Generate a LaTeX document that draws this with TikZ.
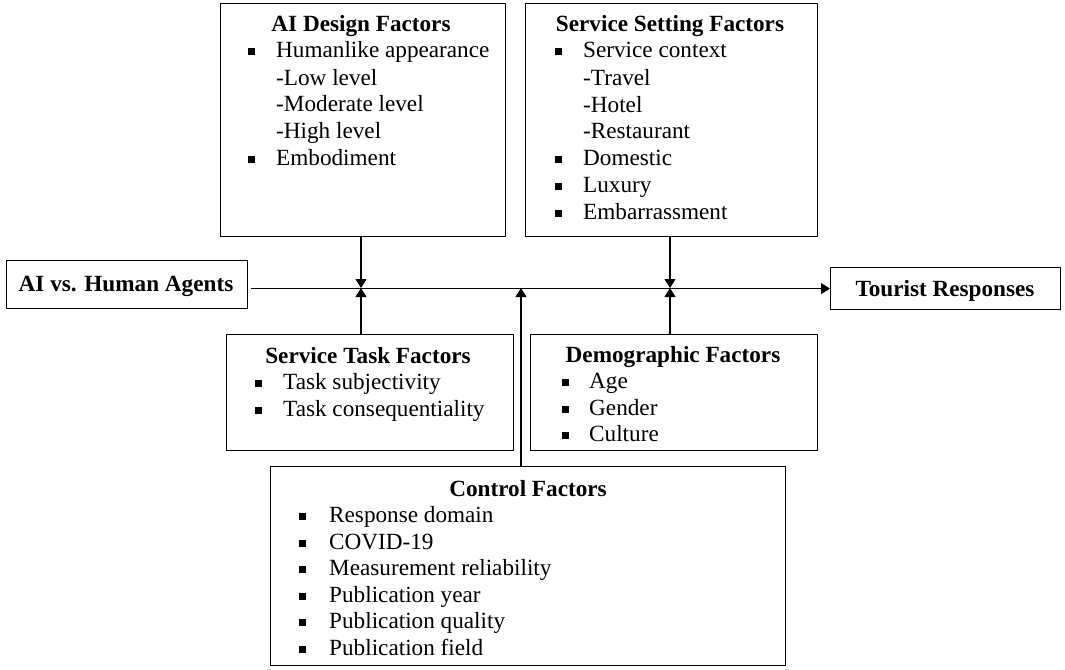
\documentclass[tikz,border=0pt]{standalone}
\usepackage{fontspec}
\setmainfont{Liberation Serif}
\usetikzlibrary{arrows.meta}
\begin{document}
\begin{tikzpicture}[x=1pt,y=-1pt,
  box/.style={draw, line width=1.2pt, inner sep=0, anchor=north west},
  txt/.style={anchor=base west, inner sep=0, font=\fontsize{23.2}{26}\selectfont},
  ttl/.style={anchor=base, inner sep=0, font=\fontsize{23.2}{26}\selectfont\bfseries},
  bul/.style={fill, minimum size=7pt, inner sep=0},
  arr/.style={line width=1.1pt, -{Triangle[width=11pt,length=9pt]}}]
\useasboundingbox (0,0) rectangle (1065,669);
% boxes
\node[box, minimum width=285pt, minimum height=233pt] (ai) at (220,3) {};
\node[box, minimum width=292pt, minimum height=233pt] (ss) at (525,3) {};
\node[box, minimum width=241pt, minimum height=48pt] (ah) at (6,260) {};
\node[box, minimum width=230pt, minimum height=42pt] (tr) at (830,267) {};
\node[box, minimum width=287pt, minimum height=116pt] (st) at (226,334) {};
\node[box, minimum width=287pt, minimum height=116pt] (dm) at (530,334) {};
\node[box, minimum width=515pt, minimum height=199pt] (cf) at (270,466) {};
% titles
\node[ttl] (ahT) at (126,291) {AI vs. Human Agents};
\node[ttl] (trT) at (945,296) {Tourist Responses};
\node[ttl] (aiT) at (361,32) {AI Design Factors};
\node[ttl] (ssT) at (670,32) {Service Setting Factors};
\node[ttl] (stT) at (368,363) {Service Task Factors};
\node[ttl] (dmT) at (673,362) {Demographic Factors};
\node[ttl] (cfT) at (528,496) {Control Factors};
% AI design
\node[bul] (b1) at (251,52) {};
\node[txt] (a1) at (276,58) {Humanlike appearance};
\node[txt] (a2) at (276,85) {-Low level};
\node[txt] (a3) at (276,111) {-Moderate level};
\node[txt] (a4) at (276,138) {-High level};
\node[bul] (b2) at (251,159) {};
\node[txt] (a5) at (276,165) {Embodiment};
% service setting
\node[bul] (b3) at (558,52) {};
\node[txt] (s1) at (583,58) {Service context};
\node[txt] (s2) at (583,85) {-Travel};
\node[txt] (s3) at (583,112) {-Hotel};
\node[txt] (s4) at (583,138) {-Restaurant};
\node[bul] (b4) at (558,159) {};
\node[txt] (s5) at (583,165) {Domestic};
\node[bul] (b5) at (558,186) {};
\node[txt] (s6) at (583,192) {Luxury};
\node[bul] (b6) at (558,213) {};
\node[txt] (s7) at (583,219) {Embarrassment};
% service task
\node[bul] (b7) at (258,383) {};
\node[txt] (t1) at (283,389) {Task subjectivity};
\node[bul] (b8) at (258,410) {};
\node[txt] (t2) at (283,416) {Task consequentiality};
% demographic
\node[bul] (b9) at (565,382) {};
\node[txt] (d1) at (589,388) {Age};
\node[bul] (b10) at (565,409) {};
\node[txt] (d2) at (589,415) {Gender};
\node[bul] (b11) at (565,435) {};
\node[txt] (d3) at (589,441) {Culture};
% control
\node[bul] (b12) at (302,516) {};
\node[txt] (c1) at (329,522) {Response domain};
\node[bul] (b13) at (302,543) {};
\node[txt] (c2) at (329,549) {COVID-19};
\node[bul] (b14) at (302,569) {};
\node[txt] (c3) at (329,575) {Measurement reliability};
\node[bul] (b15) at (302,596) {};
\node[txt] (c4) at (329,602) {Publication year};
\node[bul] (b16) at (302,622) {};
\node[txt] (c5) at (329,628) {Publication quality};
\node[bul] (b17) at (302,649) {};
\node[txt] (c6) at (329,655) {Publication field};
% connectors
\coordinate (m1) at (361,288);
\coordinate (m2) at (670,288);
\coordinate (mc) at (521,288);
\draw[arr, shorten <=3pt] (ah.east |- tr.west) -- (tr.west);
\draw[arr] (ai.south -| m1) -- (m1);
\draw[arr] (st.north -| m1) -- (m1);
\draw[arr] (ss.south -| m2) -- (m2);
\draw[arr] (dm.north -| m2) -- (m2);
\draw[arr] (cf.north -| mc) -- (mc);
\end{tikzpicture}
\end{document}
